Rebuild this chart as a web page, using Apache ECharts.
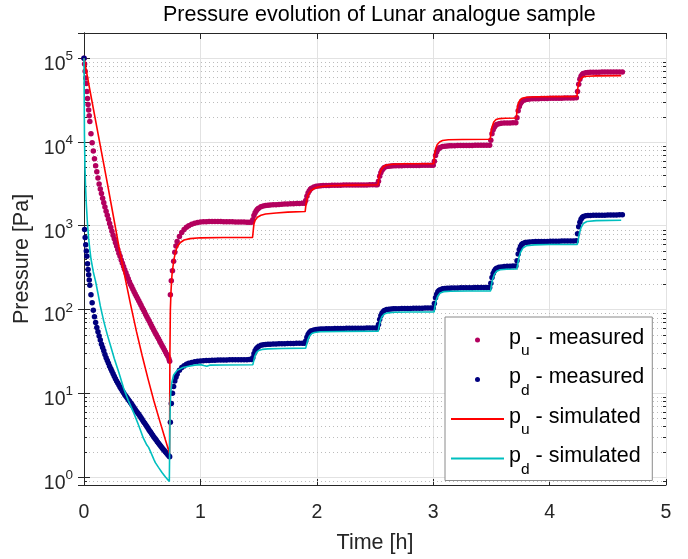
<!DOCTYPE html>
<html><head><meta charset="utf-8">
<script src="https://cdn.jsdelivr.net/npm/echarts@6/dist/echarts.min.js"></script>
<style>html,body{margin:0;padding:0;background:#fff}#c{width:688px;height:559px}</style>
</head><body><div id="c"></div>
<script>
// ---- measured samples (time in h) ----
const tMeas = [
  0, 0.005, 0.01, 0.015, 0.02, 0.025, 0.03, 0.035, 0.04, 0.045,
  0.05, 0.06, 0.07, 0.08, 0.09, 0.10, 0.11, 0.12, 0.13, 0.14,
  0.15, 0.16, 0.17, 0.18, 0.19, 0.20, 0.21, 0.22, 0.23, 0.24,
  0.25, 0.26, 0.27, 0.28, 0.29, 0.30, 0.31, 0.32, 0.33, 0.34,
  0.35, 0.36, 0.37, 0.38, 0.39, 0.40, 0.41, 0.42, 0.43, 0.44,
  0.45, 0.46, 0.47, 0.48, 0.49, 0.50, 0.51, 0.52, 0.53, 0.54,
  0.55, 0.56, 0.57, 0.58, 0.59, 0.60, 0.61, 0.62, 0.63, 0.64,
  0.65, 0.66, 0.67, 0.68, 0.69, 0.70, 0.71, 0.72, 0.73, 0.736,
  0.742, 0.75, 0.76, 0.77, 0.78, 0.79, 0.80, 0.82, 0.84, 0.86,
  0.88, 0.90, 0.925, 0.95, 0.975, 1.0, 1.025, 1.05, 1.075, 1.1,
  1.125, 1.15, 1.175, 1.2, 1.225, 1.25, 1.275, 1.3, 1.325, 1.35,
  1.375, 1.4, 1.42, 1.44,
  1.45, 1.46, 1.47, 1.48, 1.49, 1.50, 1.52, 1.54, 1.56, 1.58,
  1.60, 1.625, 1.65, 1.675, 1.7, 1.725, 1.75, 1.775, 1.8, 1.825,
  1.85, 1.875, 1.895,
  1.905, 1.915, 1.925, 1.935, 1.945, 1.955, 1.975, 1.995, 2.015, 2.035,
  2.055, 2.08, 2.105, 2.13, 2.155, 2.18, 2.205, 2.23, 2.255, 2.28,
  2.305, 2.33, 2.355, 2.38, 2.405, 2.43, 2.455, 2.48, 2.505, 2.52,
  2.53, 2.54, 2.55, 2.56, 2.57, 2.58, 2.60, 2.62, 2.64, 2.66,
  2.68, 2.705, 2.73, 2.755, 2.78, 2.805, 2.83, 2.855, 2.88, 2.905,
  2.93, 2.955, 2.98, 3.0,
  3.01, 3.02, 3.03, 3.04, 3.05, 3.06, 3.08, 3.10, 3.12, 3.14,
  3.16, 3.185, 3.21, 3.235, 3.26, 3.285, 3.31, 3.335, 3.36, 3.385,
  3.41, 3.435, 3.46, 3.485,
  3.495, 3.505, 3.515, 3.525, 3.535, 3.545, 3.565, 3.585, 3.61, 3.635,
  3.66, 3.685, 3.71,
  3.72, 3.73, 3.74, 3.75, 3.76, 3.77, 3.79, 3.81, 3.83, 3.855,
  3.88, 3.905, 3.93, 3.955, 3.98, 4.005, 4.03, 4.055, 4.08, 4.105,
  4.13, 4.155, 4.18, 4.205, 4.23,
  4.24, 4.25, 4.26, 4.27, 4.28, 4.29, 4.31, 4.33, 4.35, 4.375,
  4.40, 4.425, 4.45, 4.475, 4.50, 4.525, 4.55, 4.575, 4.60, 4.625
];
const puMeas = [
  100000, 85000, 70000, 58000, 50000, 40000, 33000, 28000, 24000, 20500,
  17500, 12500, 9800, 7800, 6300, 5200, 4400, 3700, 3150, 2750,
  2420, 2130, 1880, 1670, 1490, 1330, 1190, 1065, 955, 860,
  770, 700, 630, 570, 520, 470, 430, 390, 355, 325,
  298, 274, 252, 232, 214, 198, 186, 174, 163, 153,
  144, 135, 127, 119, 112, 105, 99, 93, 87, 82,
  77, 72.5, 68, 64, 60, 56.5, 53, 50, 47, 44.5,
  42, 39.5, 37, 35, 33, 31, 29.2, 27.5, 25.5, 24,
  150, 220, 290, 375, 480, 570, 645, 745, 830, 900,
  955, 1000, 1040, 1070, 1090, 1105, 1112, 1116, 1118, 1121,
  1119, 1122, 1118, 1116, 1115, 1111, 1112, 1108, 1106, 1104,
  1103, 1100, 1101, 1098,
  1180, 1320, 1430, 1510, 1570, 1620, 1680, 1720, 1740, 1755,
  1765, 1776, 1784, 1796, 1804, 1813, 1819, 1828, 1833, 1841,
  1845, 1851, 1855,
  2000, 2250, 2450, 2600, 2720, 2800, 2900, 2950, 2980, 3000,
  3012, 3018, 3026, 3031, 3034, 3041, 3044, 3051, 3052, 3056,
  3057, 3061, 3063, 3066, 3067, 3071, 3072, 3076, 3078, 3080,
  3400, 3900, 4300, 4600, 4800, 4950, 5080, 5140, 5170, 5190,
  5198, 5212, 5214, 5222, 5224, 5231, 5234, 5242, 5244, 5251,
  5252, 5256, 5257, 5260,
  5900, 6900, 7600, 8100, 8400, 8600, 8800, 8900, 8950, 8980,
  9005, 9018, 9042, 9048, 9063, 9068, 9082, 9088, 9103, 9108,
  9122, 9128, 9141, 9150,
  10500, 12500, 14000, 15000, 15700, 16100, 16500, 16700, 16800, 16860,
  16890, 16960, 17000,
  19500, 23500, 26500, 28800, 30300, 31200, 32000, 32400, 32600, 32700,
  32820, 32880, 33010, 33040, 33120, 33140, 33210, 33240, 33310, 33340,
  33420, 33440, 33510, 33540, 33600,
  40000, 49000, 56000, 61000, 64000, 65800, 67000, 67600, 67900, 68000,
  68150, 68100, 68350, 68250, 68450, 68350, 68550, 68450, 68650, 68550
];
const pdMeas = [
  100000, 900, 720, 590, 500, 430, 350, 300, 260, 225,
  195, 150, 120, 98, 82, 70, 61, 54, 48, 43,
  38.5, 35, 32, 29, 26.5, 24.5, 22.7, 21, 19.6, 18.2,
  17, 15.9, 14.9, 14, 13.2, 12.5, 11.8, 11.2, 10.6, 10.1,
  9.6, 9.2, 8.8, 8.4, 8.05, 7.7, 7.35, 7.0, 6.7, 6.4,
  6.1, 5.85, 5.6, 5.35, 5.1, 4.85, 4.6, 4.4, 4.2, 4.0,
  3.8, 3.6, 3.45, 3.3, 3.15, 3.0, 2.87, 2.75, 2.63, 2.52,
  2.42, 2.32, 2.23, 2.14, 2.06, 1.98, 1.91, 1.84, 1.78, 1.74,
  4.5, 7.5, 10, 12, 14, 15.5, 16.8, 18.8, 20.2, 21.3,
  22.1, 22.7, 23.3, 23.7, 24.0, 24.2, 24.4, 24.5, 24.6, 24.7,
  24.7, 24.8, 24.8, 24.9, 24.9, 25.0, 25.0, 25.0, 25.1, 25.1,
  25.1, 25.1, 25.2, 25.2,
  26.5, 29.5, 32, 33.8, 35, 36, 37.2, 37.8, 38.1, 38.3,
  38.5, 38.6, 38.7, 38.8, 38.9, 39.0, 39.1, 39.2, 39.3, 39.4,
  39.4, 39.5, 39.5,
  42, 46.5, 50, 52.5, 54.3, 55.5, 56.8, 57.5, 58, 58.3,
  58.5, 58.7, 58.8, 58.9, 59.0, 59.1, 59.2, 59.3, 59.4, 59.5,
  59.5, 59.6, 59.6, 59.7, 59.7, 59.8, 59.8, 59.9, 59.9, 60,
  66, 76, 84, 90, 94, 97, 99.5, 100.5, 101, 101.5,
  101.8, 102, 102.2, 102.4, 102.6, 102.8, 103, 103.2, 103.4, 103.6,
  103.7, 103.8, 103.9, 104,
  118, 138, 152, 162, 168, 172, 176, 178, 179, 179.5,
  180, 180.3, 180.6, 180.9, 181.2, 181.5, 181.8, 182, 182.2, 182.4,
  182.6, 182.8, 183, 183.2,
  205, 240, 268, 288, 302, 310, 318, 322, 325, 327,
  328, 329, 330,
  380, 460, 520, 565, 595, 612, 628, 636, 640, 643,
  645, 646, 647, 648, 649, 650, 651, 652, 653, 654,
  655, 656, 657, 658, 659,
  800, 970, 1100, 1190, 1250, 1285, 1310, 1320, 1325, 1328,
  1330, 1332, 1334, 1336, 1338, 1340, 1342, 1344, 1346, 1348
];

// ---- simulated curves [time h, pressure Pa] ----
const puSim = [
  [0, 100000], [0.05, 42000], [0.10, 17800], [0.15, 7600], [0.20, 3240], [0.25, 1350],
  [0.30, 560], [0.35, 250], [0.40, 115], [0.45, 55], [0.50, 28], [0.55, 14.8],
  [0.60, 8.1], [0.65, 4.7], [0.70, 2.75], [0.735, 1.9],
  [0.738, 30], [0.742, 100], [0.748, 170], [0.756, 260], [0.765, 330], [0.775, 410],
  [0.785, 480], [0.80, 560], [0.828, 630], [0.86, 675], [0.91, 700], [1.0, 716],
  [1.2, 722], [1.448, 722],
  [1.455, 900], [1.46, 1050], [1.47, 1160], [1.49, 1260], [1.52, 1330], [1.56, 1380],
  [1.65, 1420], [1.75, 1450], [1.90, 1475],
  [1.905, 1700], [1.915, 2100], [1.93, 2400], [1.95, 2620], [1.98, 2800], [2.02, 2920],
  [2.1, 3000], [2.3, 3050], [2.525, 3080],
  [2.53, 3500], [2.54, 4100], [2.555, 4700], [2.575, 5100], [2.60, 5300], [2.65, 5420],
  [2.75, 5480], [3.005, 5500],
  [3.01, 6800], [3.02, 8200], [3.035, 9300], [3.055, 10000], [3.08, 10400], [3.13, 10600],
  [3.25, 10700], [3.49, 10750],
  [3.495, 12500], [3.505, 15000], [3.52, 17300], [3.54, 18500], [3.57, 19000], [3.62, 19200],
  [3.715, 19300],
  [3.72, 24000], [3.73, 28500], [3.745, 31500], [3.765, 33300], [3.80, 34200], [3.9, 34700],
  [4.235, 35000],
  [4.24, 42000], [4.25, 50000], [4.265, 56000], [4.285, 59500], [4.32, 61000], [4.4, 61600],
  [4.615, 62000]
];
const pdSim = [
  [0, 100000], [0.004, 12000], [0.008, 5200], [0.013, 3000], [0.02, 1800], [0.03, 1050],
  [0.04, 700], [0.05, 520], [0.06, 400], [0.08, 280], [0.10, 215], [0.12, 155],
  [0.14, 110], [0.17, 72], [0.20, 50], [0.23, 36], [0.26, 26], [0.30, 17.5],
  [0.34, 11.5], [0.38, 8.2], [0.43, 5.7], [0.47, 4.1], [0.51, 2.9], [0.54, 2.4],
  [0.555, 2.25], [0.565, 2.15], [0.575, 1.95], [0.585, 1.85], [0.60, 1.62], [0.613, 1.48],
  [0.64, 1.3], [0.67, 1.13], [0.70, 1.0], [0.733, 0.88],
  [0.737, 3], [0.74, 6.5], [0.745, 10], [0.755, 13.5], [0.77, 16.5], [0.80, 18.7],
  [0.85, 20.2], [0.9, 21], [0.95, 21.6], [1.0, 21.9], [1.03, 21.4], [1.055, 21.0],
  [1.08, 21.6], [1.2, 21.7], [1.45, 21.8],
  [1.457, 24], [1.467, 27.5], [1.482, 30.5], [1.50, 32.3], [1.53, 33.3], [1.58, 33.8],
  [1.7, 34.2], [1.905, 34.5],
  [1.912, 38], [1.922, 43], [1.937, 48], [1.957, 51.5], [1.98, 53], [2.03, 54],
  [2.2, 54.5], [2.528, 55],
  [2.535, 63], [2.545, 73], [2.56, 82], [2.58, 88], [2.61, 91], [2.67, 92.5],
  [2.8, 93], [3.008, 93.5],
  [3.015, 110], [3.025, 128], [3.04, 145], [3.06, 157], [3.09, 163], [3.15, 165],
  [3.3, 166], [3.493, 166],
  [3.5, 195], [3.51, 228], [3.525, 262], [3.545, 285], [3.575, 297], [3.63, 302],
  [3.718, 304],
  [3.725, 340], [3.735, 410], [3.75, 480], [3.77, 540], [3.80, 575], [3.87, 590],
  [4.0, 595], [4.238, 597],
  [4.245, 660], [4.255, 800], [4.27, 950], [4.29, 1060], [4.32, 1120], [4.4, 1150],
  [4.615, 1160]
];

// ---- axes ----
const xRange = [0, 5];
const yRange = [0.8, 200000];
const yMinorTicks = [
  0.9,
  2, 3, 4, 5, 6, 7, 8, 9,
  20, 30, 40, 50, 60, 70, 80, 90,
  200, 300, 400, 500, 600, 700, 800, 900,
  2000, 3000, 4000, 5000, 6000, 7000, 8000, 9000,
  20000, 30000, 40000, 50000, 60000, 70000, 80000, 90000
];
const seriesNames = ['pu - measured', 'pd - measured', 'pu - simulated', 'pd - simulated'];
const legendText = {
  'pu - measured': '{m|p}{s|u}{m| - measured}',
  'pd - measured': '{m|p}{s|d}{m| - measured}',
  'pu - simulated': '{m|p}{s|u}{m| - simulated}',
  'pd - simulated': '{m|p}{s|d}{m| - simulated}'
};
const titleText = 'Pressure evolution of Lunar analogue sample';
const xName = 'Time [h]';
const yName = 'Pressure [Pa]';

const FONT = '"Liberation Sans", Arial, Helvetica, sans-serif';
const INK = '#262626';

const n = Math.min(tMeas.length, puMeas.length, pdMeas.length);
const puMeasData = [], pdMeasData = [];
for (let i = 0; i < n; i++) {
  puMeasData.push([tMeas[i], puMeas[i]]);
  pdMeasData.push([tMeas[i], pdMeas[i]]);
}

const chart = echarts.init(document.getElementById('c'), null, {renderer: 'canvas'});

const axisLineStyle = {color: INK, width: 1};
const crisp = v => Math.round(v) + 0.5;

chart.setOption({
  animation: false,
  backgroundColor: '#fff',
  title: {
    text: titleText,
    left: 163,
    top: 4,
    padding: 0,
    textStyle: {fontFamily: FONT, fontSize: 21.5, fontWeight: 'normal', color: '#000'}
  },
  grid: {left: 84, top: 33, width: 582, height: 456, containLabel: false},
  xAxis: [{
    type: 'value', min: xRange[0], max: xRange[1], interval: 1, position: 'bottom',
    name: xName, nameLocation: 'middle', nameGap: 47,
    nameTextStyle: {fontFamily: FONT, fontSize: 21.5, color: INK},
    axisLine: {show: true, lineStyle: axisLineStyle},
    axisTick: {show: true, inside: true, length: 6, lineStyle: axisLineStyle},
    axisLabel: {fontFamily: FONT, fontSize: 19.5, color: INK, margin: 18},
    splitLine: {show: true, lineStyle: {color: '#e2e2e2', width: 1}}
  }, {
    type: 'value', min: xRange[0], max: xRange[1], interval: 1, position: 'top',
    axisLine: {show: true, lineStyle: axisLineStyle},
    axisTick: {show: true, inside: true, length: 6, lineStyle: axisLineStyle},
    axisLabel: {show: false},
    splitLine: {show: false}
  }],
  yAxis: [{
    type: 'log', logBase: 10, min: yRange[0], max: yRange[1], position: 'left',
    name: yName, nameLocation: 'middle', nameGap: 47, nameRotate: 90,
    nameTextStyle: {fontFamily: FONT, fontSize: 21.5, color: INK},
    axisLine: {show: true, lineStyle: axisLineStyle},
    axisTick: {show: true, inside: true, length: 6, lineStyle: axisLineStyle},
    axisLabel: {
      show: true, margin: 11, showMinLabel: false, showMaxLabel: false,
      formatter: v => {
        const e = Math.round(Math.log10(v));
        if (Math.abs(Math.log10(v) - e) > 1e-6) return '';
        return '{b|10}{e|' + e + '}';
      },
      rich: {
        b: {fontFamily: FONT, fontSize: 19.5, color: INK, lineHeight: 19},
        e: {fontFamily: FONT, fontSize: 13.5, color: INK, lineHeight: 12, padding: [0, 0, 16, 0]}
      },
      padding: [13, 0, 0, 0]
    },
    splitLine: {show: true, lineStyle: {color: '#e2e2e2', width: 1}}
  }, {
    type: 'log', logBase: 10, min: yRange[0], max: yRange[1], position: 'right',
    axisLine: {show: true, lineStyle: axisLineStyle},
    axisTick: {show: true, inside: true, length: 6, lineStyle: axisLineStyle},
    axisLabel: {show: false},
    splitLine: {show: false}
  }],
  legend: {
    orient: 'vertical', left: 445, top: 317,
    padding: [4, 8, 3, 5], itemGap: 1.5,
    itemWidth: 53, itemHeight: 5,
    backgroundColor: '#fff', borderColor: '#8a8a8a', borderWidth: 1, borderRadius: 0,
    selectedMode: false,
    formatter: name => legendText[name],
    textStyle: {
      rich: {
        m: {fontFamily: FONT, fontSize: 21.5, color: '#000', lineHeight: 20, padding: [0, 0, 4, 0]},
        s: {fontFamily: FONT, fontSize: 15.5, color: '#000', lineHeight: 14, padding: [22, 0, 0, 0]}
      }
    },
    data: [
      {name: seriesNames[0], icon: 'circle'},
      {name: seriesNames[1], icon: 'circle'},
      {name: seriesNames[2], itemStyle: {opacity: 0}},
      {name: seriesNames[3], itemStyle: {opacity: 0}}
    ]
  },
  series: [{
    type: 'custom', name: 'minor grid', silent: true, z: 1,
    xAxisIndex: 0, yAxisIndex: 0, clip: false,
    data: yMinorTicks.map(v => [xRange[0], v]),
    encode: {x: 0, y: 1},
    renderItem: (params, api) => {
      const v = api.value(1);
      const a = api.coord([xRange[0], v]);
      const b = api.coord([xRange[1], v]);
      const y = crisp(a[1]);
      return {type: 'group', children: [
        {type: 'line', shape: {x1: a[0] + 1, y1: y, x2: b[0] - 1, y2: y},
         style: {stroke: '#bcbcbc', lineWidth: 1, lineDash: [1, 3]}},
        {type: 'line', shape: {x1: a[0], y1: y, x2: a[0] + 3, y2: y},
         style: {stroke: INK, lineWidth: 1}},
        {type: 'line', shape: {x1: b[0] - 3, y1: y, x2: b[0], y2: y},
         style: {stroke: INK, lineWidth: 1}}
      ]};
    }
  }, {
    type: 'scatter', name: seriesNames[0], data: puMeasData,
    symbol: 'circle', symbolSize: 5.5, z: 3,
    itemStyle: {color: '#b3005e', opacity: 1}
  }, {
    type: 'scatter', name: seriesNames[1], data: pdMeasData,
    symbol: 'circle', symbolSize: 5.5, z: 4,
    itemStyle: {color: '#00007f', opacity: 1}
  }, {
    type: 'line', name: seriesNames[2], data: puSim,
    symbol: 'none', showSymbol: false, z: 5, smooth: false,
    lineStyle: {color: '#ff0000', width: 1.6},
    itemStyle: {color: '#ff0000'}
  }, {
    type: 'line', name: seriesNames[3], data: pdSim,
    symbol: 'none', showSymbol: false, z: 6, smooth: false,
    lineStyle: {color: '#00bfbf', width: 1.6},
    itemStyle: {color: '#00bfbf'}
  }]
});
</script>
</body></html>
